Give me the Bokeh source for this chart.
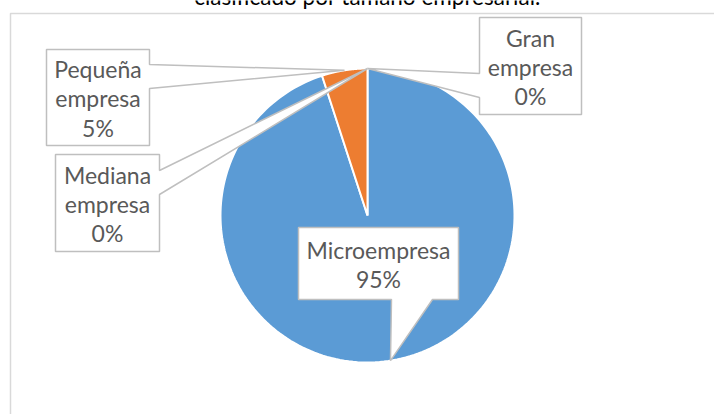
import numpy as np
from bokeh.plotting import figure
from bokeh.models import Range1d
from bokeh.core.properties import value
from bokeh.embed import file_html
from bokeh.resources import INLINE

# ---- data ----
categories = ["Microempresa", "Pequeña empresa", "Mediana empresa", "Gran empresa"]
values = [95, 5, 0, 0]
slice_colors = ["#5B9BD5", "#ED7D31", "#A5A5A5", "#FFC000"]
title_text = "clasificado por tamaño empresarial."

# ---- layout (page pixel space, y down) ----
W, H = 714, 414
CX, CY, R = 367, 215, 147
FONT = "Lato"
# label boxes: left, top, right, bottom, pointer side, attach a, attach b
boxes = {
    "Microempresa": (298, 227, 458, 299, "bottom", 391, 432),
    "Pequeña empresa": (46, 49, 149, 145, "right", 64, 88),
    "Mediana empresa": (55, 154, 159, 251, "right", 170, 194),
    "Gran empresa": (479, 17, 581, 114, "left", 73, 97),
}

p = figure(width=W, height=H, output_backend="svg", toolbar_location=None,
           x_range=Range1d(0, W), y_range=Range1d(H, 0),
           min_border=0, styles={"position": "absolute", "top": "0px", "left": "0px"})
p.axis.visible = False
p.grid.visible = False
p.outline_line_color = None
p.background_fill_color = "white"
p.border_fill_color = "white"

# chart area border
p.quad(left=10, right=W + 10, top=13, bottom=H + 10, fill_color=None,
       line_color="#D9D9D9", line_width=1.5)

# title (partly cut off at the top, as in the reference)
p.text(x=[367], y=[-4], text=[title_text], text_align="center", text_baseline="alphabetic",
       text_font=value(FONT), text_font_size="22.5px", text_color="#000000")

total = float(sum(values))
cum = 0.0
tips = {}
xs, ys, cols = [], [], []
for cat, v, c in zip(categories, values, slice_colors):
    a0 = cum / total * 2 * np.pi
    a1 = (cum + v) / total * 2 * np.pi
    mid = (a0 + a1) / 2
    tips[cat] = (CX + R * np.sin(mid), CY - R * np.cos(mid))
    if v > 0:
        t = np.linspace(a0, a1, 200)
        xs.append([CX] + list(CX + R * np.sin(t)))
        ys.append([CY] + list(CY - R * np.cos(t)))
        cols.append(c)
    cum += v
p.patches(xs, ys, fill_color=cols, line_color="white", line_width=2)

# callouts
bx, by = [], []
for cat in categories:
    l, t, r, b, side, a, bb = boxes[cat]
    tx, ty = tips[cat]
    if side == "right":
        px = [l, r, r, tx, r, r, l]
        py = [t, t, a, ty, bb, b, b]
    elif side == "left":
        px = [l, r, r, l, l, tx, l]
        py = [t, t, b, b, bb, ty, a]
    else:  # bottom
        px = [l, r, r, bb, tx, a, l]
        py = [t, t, b, b, ty, b, b]
    bx.append(px)
    by.append(py)
p.patches(bx, by, fill_color="white", line_color="#BFBFBF", line_width=1.5)

lx, ly, lt = [], [], []
for cat, v in zip(categories, values):
    l, t, r, b, *_ = boxes[cat]
    pct = f"{round(v / total * 100)}%"
    lx.append((l + r) / 2)
    ly.append((t + b) / 2 + 1)
    lt.append("\n".join(cat.split(" ") + [pct]))
p.text(x=lx, y=ly, text=lt, text_align="center", text_baseline="middle",
       text_font=value(FONT), text_font_size="23px", text_color="#595959",
       text_line_height=1.05)

open("out.html", "w").write(file_html(p, INLINE))
